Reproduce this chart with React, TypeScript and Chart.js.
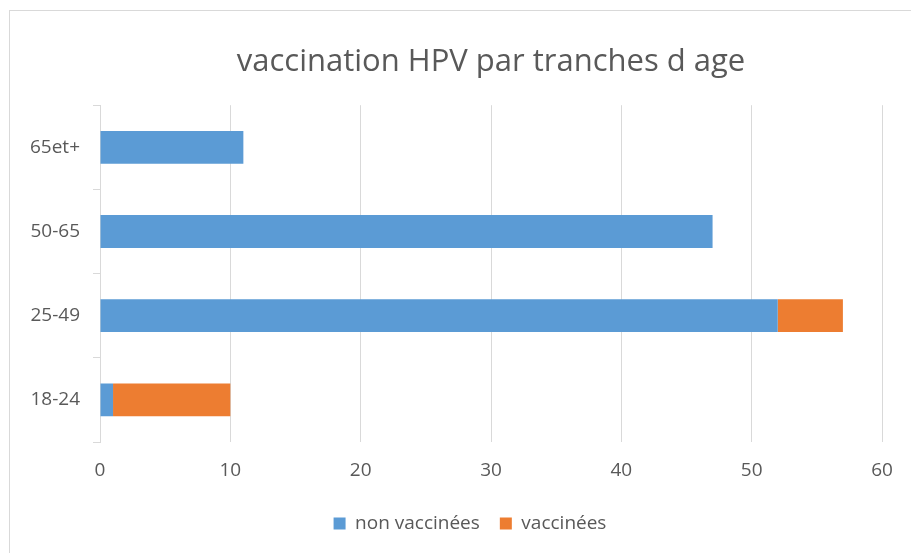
import React, { useEffect, useRef } from "react";
import { Chart, registerables } from "chart.js";

Chart.register(...registerables);

const categories = ["65et+", "50-65", "25-49", "18-24"];
const nonVaccinees = [11, 47, 52, 1];
const vaccinees = [0, 0, 5, 9];
const xTicks = [0, 10, 20, 30, 40, 50, 60];

const TEXT = "#595959";
const GRID = "#d9d9d9";
const FONT = "'Open Sans', Lato, sans-serif";

const legendShift = {
  id: "legendShift",
  afterLayout(chart: any) {
    const l = chart.legend;
    if (l) {
      l.left += 24;
      l.right += 24;
    }
  },
};

export default function App() {
  const ref = useRef<HTMLCanvasElement>(null);
  useEffect(() => {
    const chart = new Chart(ref.current!, {
      type: "bar",
      data: {
        labels: categories,
        datasets: [
          { label: "non vaccinées", data: nonVaccinees, backgroundColor: "#5B9BD5", borderWidth: 0 },
          { label: "vaccinées", data: vaccinees, backgroundColor: "#ED7D31", borderWidth: 0 },
        ],
      },
      plugins: [legendShift],
      options: {
        animation: false,
        responsive: false,
        indexAxis: "y",
        layout: { padding: { left: 0, right: 29, top: 0, bottom: 10 } },
        datasets: { bar: { categoryPercentage: 1, barPercentage: 0.39 } },
        plugins: {
          title: {
            display: true,
            fullSize: false,
            text: "vaccination HPV par tranches d age",
            color: TEXT,
            font: { family: FONT, size: 31, weight: "normal" },
            padding: { top: 33, bottom: 24 },
          },
          legend: {
            position: "bottom",
            labels: {
              color: TEXT,
              font: { family: FONT, size: 19 },
              boxWidth: 12,
              boxHeight: 12,
              padding: 20,
            },
          },
          tooltip: { enabled: false },
        },
        scales: {
          x: {
            stacked: true,
            min: 0,
            max: 60,
            afterBuildTicks: (s: any) => {
              s.ticks = xTicks.map((v) => ({ value: v }));
            },
            afterFit: (s: any) => {
              s.height = 52;
            },
            ticks: { color: TEXT, font: { family: FONT, size: 19 }, padding: 17 },
            grid: { color: GRID, drawTicks: false },
            border: { display: false },
          },
          y: {
            stacked: true,
            afterFit: (s: any) => {
              s.width = 90;
            },
            ticks: { color: TEXT, font: { family: FONT, size: 19 }, padding: 13 },
            grid: { color: GRID, drawOnChartArea: false, tickLength: 7, offset: true },
            border: { display: true, color: GRID },
          },
        },
      },
    });
    return () => chart.destroy();
  }, []);
  return (
    <div
      style={{
        position: "absolute",
        left: 9,
        top: 10,
        width: 920,
        height: 560,
        borderLeft: "1px solid #d9d9d9",
        borderTop: "1px solid #d9d9d9",
        background: "#fff",
      }}
    >
      <canvas ref={ref} width={901} height={542} style={{ display: "block" }} />
    </div>
  );
}
